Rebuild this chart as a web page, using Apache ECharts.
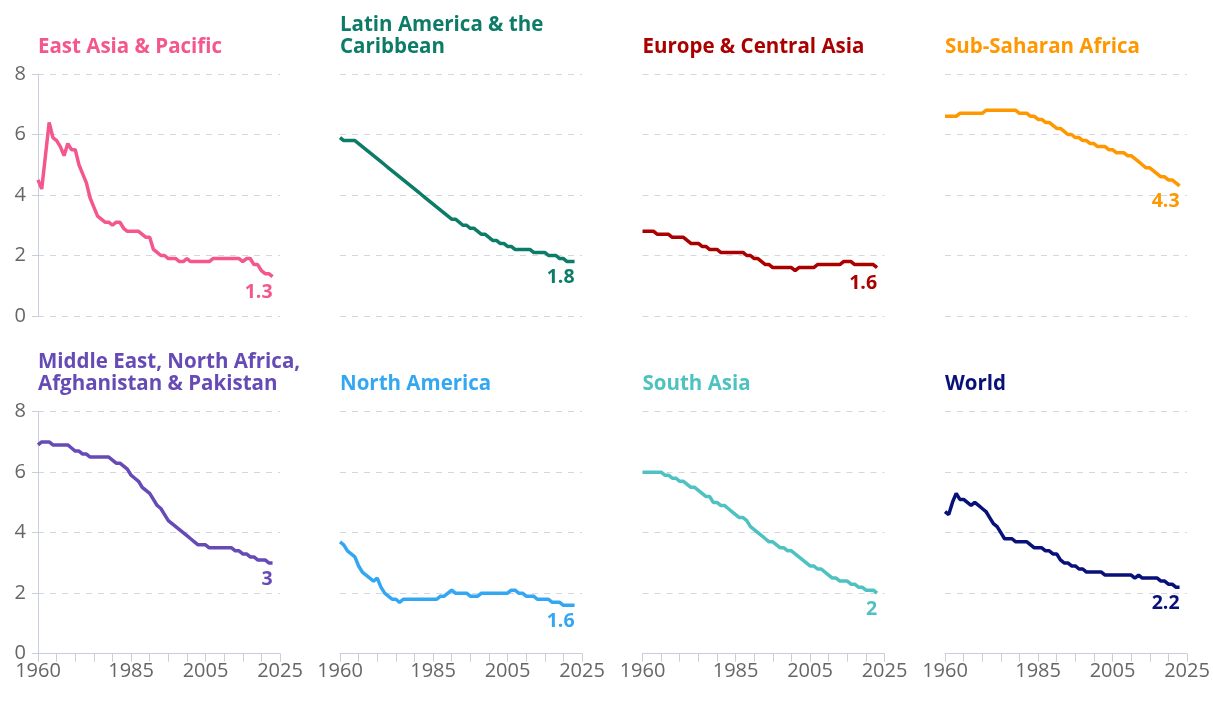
<!DOCTYPE html>
<html>
<head>
<meta charset="utf-8">
<title>Fertility rate by region</title>
<script src="https://cdn.jsdelivr.net/npm/echarts@6/dist/echarts.min.js"></script>
<style>
  html, body { margin: 0; padding: 0; background: #fff; }
  #chart { width: 1213px; height: 704px; }
</style>
</head>
<body>
<div id="chart"></div>
<script>
// years 1960..2023
var years = [];
for (var yr = 1960; yr <= 2023; yr++) years.push(yr);

var xLabels = [1960, 1985, 2005, 2025];
var yTicks = [0, 2, 4, 6, 8];

var regions = ['East Asia & Pacific', 'Latin America & the\nCaribbean', 'Europe & Central Asia', 'Sub-Saharan Africa',
    'Middle East, North Africa,\nAfghanistan & Pakistan', 'North America', 'South Asia', 'World'];

var colors = ['#F3578E', '#0C7C68', '#AA0000', '#FF9800', '#664AB6', '#34A7F2', '#4EC2C0', '#081079'];

var eap = [4.5, 4.2, 5.3, 6.4, 5.9, 5.8, 5.6, 5.3, 5.7, 5.5,
    5.5, 5.0, 4.7, 4.4, 3.9, 3.6, 3.3, 3.2, 3.1, 3.1,
    3.0, 3.1, 3.1, 2.9, 2.8, 2.8, 2.8, 2.8, 2.7, 2.6,
    2.6, 2.2, 2.1, 2.0, 2.0, 1.9, 1.9, 1.9, 1.8, 1.8,
    1.9, 1.8, 1.8, 1.8, 1.8, 1.8, 1.8, 1.9, 1.9, 1.9,
    1.9, 1.9, 1.9, 1.9, 1.9, 1.8, 1.9, 1.9, 1.7, 1.7,
    1.5, 1.4, 1.4, 1.3];
var lcn = [5.9, 5.8, 5.8, 5.8, 5.8, 5.7, 5.6, 5.5, 5.4, 5.3,
    5.2, 5.1, 5.0, 4.9, 4.8, 4.7, 4.6, 4.5, 4.4, 4.3,
    4.2, 4.1, 4.0, 3.9, 3.8, 3.7, 3.6, 3.5, 3.4, 3.3,
    3.2, 3.2, 3.1, 3.0, 3.0, 2.9, 2.9, 2.8, 2.7, 2.7,
    2.6, 2.5, 2.5, 2.4, 2.4, 2.3, 2.3, 2.2, 2.2, 2.2,
    2.2, 2.2, 2.1, 2.1, 2.1, 2.1, 2.0, 2.0, 2.0, 1.9,
    1.9, 1.8, 1.8, 1.8];
var eca = [2.8, 2.8, 2.8, 2.8, 2.7, 2.7, 2.7, 2.7, 2.6, 2.6,
    2.6, 2.6, 2.5, 2.4, 2.4, 2.4, 2.3, 2.3, 2.2, 2.2,
    2.2, 2.1, 2.1, 2.1, 2.1, 2.1, 2.1, 2.1, 2.0, 2.0,
    1.9, 1.9, 1.8, 1.7, 1.7, 1.6, 1.6, 1.6, 1.6, 1.6,
    1.6, 1.5, 1.6, 1.6, 1.6, 1.6, 1.6, 1.7, 1.7, 1.7,
    1.7, 1.7, 1.7, 1.7, 1.8, 1.8, 1.8, 1.7, 1.7, 1.7,
    1.7, 1.7, 1.7, 1.6];
var ssa = [6.6, 6.6, 6.6, 6.6, 6.7, 6.7, 6.7, 6.7, 6.7, 6.7,
    6.7, 6.8, 6.8, 6.8, 6.8, 6.8, 6.8, 6.8, 6.8, 6.8,
    6.7, 6.7, 6.7, 6.6, 6.6, 6.5, 6.5, 6.4, 6.4, 6.3,
    6.2, 6.2, 6.1, 6.0, 6.0, 5.9, 5.9, 5.8, 5.8, 5.7,
    5.7, 5.6, 5.6, 5.6, 5.5, 5.5, 5.4, 5.4, 5.4, 5.3,
    5.3, 5.2, 5.1, 5.0, 4.9, 4.9, 4.8, 4.7, 4.6, 4.6,
    4.5, 4.5, 4.4, 4.3];
var mena = [6.9, 7.0, 7.0, 7.0, 6.9, 6.9, 6.9, 6.9, 6.9, 6.8,
    6.7, 6.7, 6.6, 6.6, 6.5, 6.5, 6.5, 6.5, 6.5, 6.5,
    6.4, 6.3, 6.3, 6.2, 6.1, 5.9, 5.8, 5.7, 5.5, 5.4,
    5.3, 5.1, 4.9, 4.8, 4.6, 4.4, 4.3, 4.2, 4.1, 4.0,
    3.9, 3.8, 3.7, 3.6, 3.6, 3.6, 3.5, 3.5, 3.5, 3.5,
    3.5, 3.5, 3.5, 3.4, 3.4, 3.3, 3.3, 3.2, 3.2, 3.1,
    3.1, 3.1, 3.0, 3.0];
var nac = [3.7, 3.6, 3.4, 3.3, 3.2, 2.9, 2.7, 2.6, 2.5, 2.4,
    2.5, 2.2, 2.0, 1.9, 1.8, 1.8, 1.7, 1.8, 1.8, 1.8,
    1.8, 1.8, 1.8, 1.8, 1.8, 1.8, 1.8, 1.9, 1.9, 2.0,
    2.1, 2.0, 2.0, 2.0, 2.0, 1.9, 1.9, 1.9, 2.0, 2.0,
    2.0, 2.0, 2.0, 2.0, 2.0, 2.0, 2.1, 2.1, 2.0, 2.0,
    1.9, 1.9, 1.9, 1.8, 1.8, 1.8, 1.8, 1.7, 1.7, 1.7,
    1.6, 1.6, 1.6, 1.6];
var sas = [6.0, 6.0, 6.0, 6.0, 6.0, 6.0, 5.9, 5.9, 5.8, 5.8,
    5.7, 5.7, 5.6, 5.5, 5.5, 5.4, 5.3, 5.2, 5.2, 5.0,
    5.0, 4.9, 4.9, 4.8, 4.7, 4.6, 4.5, 4.5, 4.4, 4.2,
    4.1, 4.0, 3.9, 3.8, 3.7, 3.7, 3.6, 3.5, 3.5, 3.4,
    3.4, 3.3, 3.2, 3.1, 3.0, 2.9, 2.9, 2.8, 2.8, 2.7,
    2.6, 2.5, 2.5, 2.4, 2.4, 2.4, 2.3, 2.3, 2.2, 2.2,
    2.1, 2.1, 2.1, 2.0];
var wld = [4.7, 4.6, 5.0, 5.3, 5.1, 5.1, 5.0, 4.9, 5.0, 4.9,
    4.8, 4.7, 4.5, 4.3, 4.2, 4.0, 3.8, 3.8, 3.8, 3.7,
    3.7, 3.7, 3.7, 3.6, 3.5, 3.5, 3.5, 3.4, 3.4, 3.3,
    3.3, 3.1, 3.0, 3.0, 2.9, 2.9, 2.8, 2.8, 2.7, 2.7,
    2.7, 2.7, 2.7, 2.6, 2.6, 2.6, 2.6, 2.6, 2.6, 2.6,
    2.6, 2.5, 2.6, 2.5, 2.5, 2.5, 2.5, 2.5, 2.4, 2.4,
    2.3, 2.3, 2.2, 2.2];

var allData = [eap, lcn, eca, ssa, mena, nac, sas, wld];

var font = "'Open Sans', sans-serif";
var colLeft = [38, 340, 642.5, 945];
var rowTop = [74, 411.7];
var axisGray = '#c9cde0';

var grids = [], xAxes = [], yAxes = [], series = [], titles = [];

for (var i = 0; i < 8; i++) {
    var row = Math.floor(i / 4), col = i % 4;
    var twoLines = regions[i].indexOf('\n') >= 0;

    grids.push({ left: colLeft[col], top: rowTop[row], width: 242, height: 242 });

    titles.push({
        text: regions[i],
        left: colLeft[col],
        top: (row === 0 ? 36 : 373) - (twoLines ? 22 : 0),
        padding: 0,
        textStyle: { color: colors[i], fontSize: 20.5, fontWeight: 'bold', lineHeight: 22, fontFamily: font }
    });

    xAxes.push({
        type: 'value', gridIndex: i, min: 1960, max: 2025, interval: 5,
        axisLine: { show: row === 1, lineStyle: { color: axisGray, width: 1 } },
        axisTick: { show: row === 1, length: 8, lineStyle: { color: axisGray } },
        axisLabel: {
            show: row === 1, fontSize: 20, color: '#666', fontFamily: font, margin: 8,
            formatter: function (v) { return xLabels.indexOf(v) >= 0 ? String(v) : ''; }
        },
        splitLine: { show: false }
    });

    yAxes.push({
        type: 'value', gridIndex: i, min: yTicks[0], max: yTicks[yTicks.length - 1], interval: 2,
        axisLine: { show: col === 0, lineStyle: { color: axisGray, width: 1 } },
        axisTick: { show: col === 0, length: 6, lineStyle: { color: axisGray } },
        axisLabel: { show: col === 0, fontSize: 20, color: '#666', fontFamily: font, margin: 12 },
        splitLine: { show: true, lineStyle: { color: '#d3d7e4', type: [6, 6], width: 1 } }
    });

    var vals = allData[i];
    var pts = years.map(function (y, k) { return [y, vals[k]]; });
    var last = pts.length - 1;
    pts[last] = {
        value: pts[last],
        label: {
            show: true, position: 'bottom', align: 'right', distance: 6,
            color: colors[i], fontSize: 19.5, fontWeight: 'bold', fontFamily: font,
            formatter: function (p) { return String(p.value[1]); }
        }
    };

    series.push({
        type: 'line', xAxisIndex: i, yAxisIndex: i, data: pts,
        showSymbol: true, symbol: 'circle', symbolSize: 0,
        lineStyle: { color: colors[i], width: 3.5 },
        itemStyle: { color: colors[i] },
        label: { show: false },
        silent: true
    });
}

var chart = echarts.init(document.getElementById('chart'));
chart.setOption({
    animation: false,
    backgroundColor: '#fff',
    title: titles,
    grid: grids,
    xAxis: xAxes,
    yAxis: yAxes,
    series: series
});
</script>
</body>
</html>
